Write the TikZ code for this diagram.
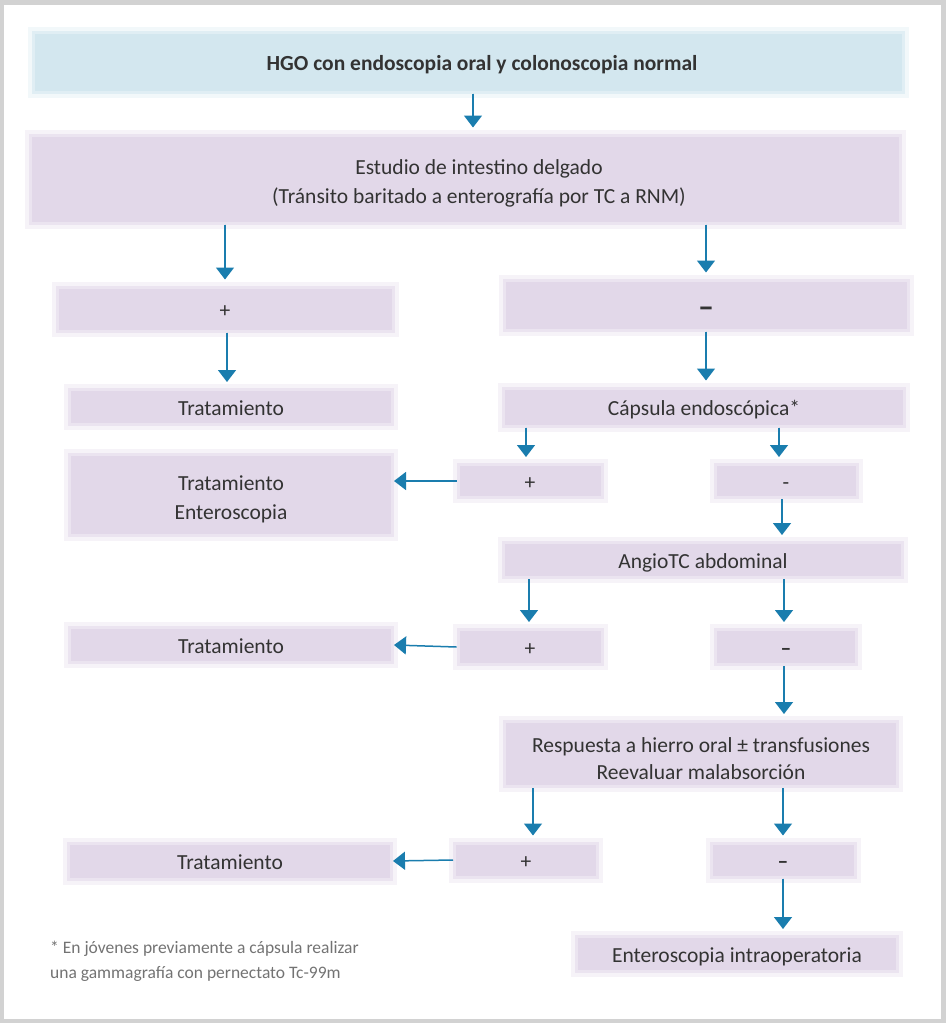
\documentclass[tikz,border=0pt]{standalone}
\usepackage{fontspec}
\setmainfont{Carlito}
\usepackage{tikz}
\usetikzlibrary{arrows.meta}

\definecolor{lila}{HTML}{E2D8E9}
\definecolor{celeste}{HTML}{D3E7EF}
\definecolor{azulflecha}{HTML}{1A7DAE}
\definecolor{texto}{HTML}{333333}
\definecolor{marco}{HTML}{D2D2D2}

\newcommand{\puntal}{\rule{0pt}{24pt}}
\newcommand{\sangria}{\hspace*{28pt}}

\tikzset{
    caja/.style={rectangle, fill=lila, draw=lila!70, line width=3pt,
        preaction={draw=lila!30, line width=11pt},
        inner sep=0pt, text height=16pt, text depth=0pt,
        align=center, text=texto, font=\fontsize{21.5}{29}\selectfont},
    dosl/.style={caja, text height=, text depth=},
    cajaazul/.style={caja, fill=celeste, draw=celeste!70,
        preaction={draw=celeste!30, line width=11pt}},
    flecha/.style={-{Triangle[width=18pt,length=12pt]}, draw=azulflecha, fill=azulflecha,
        line width=1.5pt, shorten >=6pt},
    nota/.style={align=left, text=black!55, inner sep=0pt,
        font=\fontsize{17.5}{25}\selectfont}
}

\begin{document}
\begin{tikzpicture}[x=1pt,y=-1pt]
\useasboundingbox (0,0) rectangle (946,1023);
\fill[marco] (0,0) rectangle (946,1023);
\fill[white] (4,5) rectangle (941,1019);

\node[cajaazul, minimum width=870, minimum height=60,
    font=\bfseries\fontsize{21.5}{24}\selectfont] (hgo) at (468,62)
    {\sangria HGO con endoscopia oral y colonoscopia normal};
\node[dosl, minimum width=870, minimum height=88] (estudio) at (465,179)
    {\puntal\sangria Estudio de intestino delgado\\\sangria(Tránsito baritado a enterografía por TC a RNM)};

\node[caja, minimum width=336, minimum height=44] (pos1) at (225,309) {+};
\node[caja, minimum width=404, minimum height=50] (neg1) at (706,305)
    {\raisebox{-4pt}{\fontsize{32}{32}\selectfont\textbf{–}}};

\node[caja, minimum width=323, minimum height=35] (trat1) at (231,407) {Tratamiento};
\node[caja, minimum width=401, minimum height=38] (capsula) at (704,407) {Cápsula endoscópica*};

\node[dosl, minimum width=323, minimum height=81] (trat2) at (231,495)
    {\puntal Tratamiento\\Enteroscopia};
\node[caja, minimum width=144, minimum height=33] (pos2) at (530,481) {+};
\node[caja, minimum width=142, minimum height=33] (neg2) at (786,481) {-};

\node[caja, minimum width=399, minimum height=35] (angio) at (703,560) {AngioTC abdominal};

\node[caja, minimum width=323, minimum height=35] (trat3) at (231,645) {Tratamiento};
\node[caja, minimum width=144, minimum height=35] (pos3) at (530,647) {+};
\node[caja, minimum width=141, minimum height=35] (neg3) at (786,647) {\textbf{–}};

\node[dosl, minimum width=393, minimum height=65, font=\fontsize{21.5}{27}\selectfont] (resp) at (701,754)
    {\puntal Respuesta a hierro oral ± transfusiones\\Reevaluar malabsorción};

\node[caja, minimum width=323, minimum height=36] (trat4) at (230,861) {Tratamiento};
\node[caja, minimum width=143, minimum height=34] (pos4) at (526,860) {+};
\node[caja, minimum width=144, minimum height=34] (neg4) at (783,860) {\textbf{–}};

\node[caja, minimum width=321, minimum height=35] (intra) at (737,954) {Enteroscopia intraoperatoria};

\node[nota, anchor=north west] (nota) at (50,941)
    {* En jóvenes previamente a cápsula realizar\\una gammagrafía con pernectato Tc-99m};

% flechas verticales
\draw[flecha] (hgo.south -| 473,0) -- (estudio.north -| 473,0);
\draw[flecha] (pos1.north |- estudio.south) -- (pos1.north);
\draw[flecha] (neg1.north |- estudio.south) -- (neg1.north);
\draw[flecha] (pos1.south -| 227,0) -- (trat1.north -| 227,0);
\draw[flecha] (neg1.south) -- (capsula.north -| neg1.south);
\draw[flecha] (capsula.south -| 526,0) -- (pos2.north -| 526,0);
\draw[flecha] (capsula.south -| 779,0) -- (neg2.north -| 779,0);
\draw[flecha] (neg2.south -| 782,0) -- (angio.north -| 782,0);
\draw[flecha] (angio.south -| 529,0) -- (pos3.north -| 529,0);
\draw[flecha] (angio.south -| 784,0) -- (neg3.north -| 784,0);
\draw[flecha] (neg3.south -| 784,0) -- (resp.north -| 784,0);
\draw[flecha] (resp.south -| 533,0) -- (pos4.north -| 533,0);
\draw[flecha] (resp.south -| 783,0) -- (neg4.north -| 783,0);
\draw[flecha] (neg4.south) -- (intra.north -| neg4.south);

% flechas horizontales
\draw[flecha, shorten >=0pt] (pos2.west) -- (trat2.east |- pos2.west);
\draw[flecha, shorten >=0pt] (pos3.west) -- (trat3.east);
\draw[flecha, shorten >=0pt] (pos4.west) -- (trat4.east);
\end{tikzpicture}
\end{document}
